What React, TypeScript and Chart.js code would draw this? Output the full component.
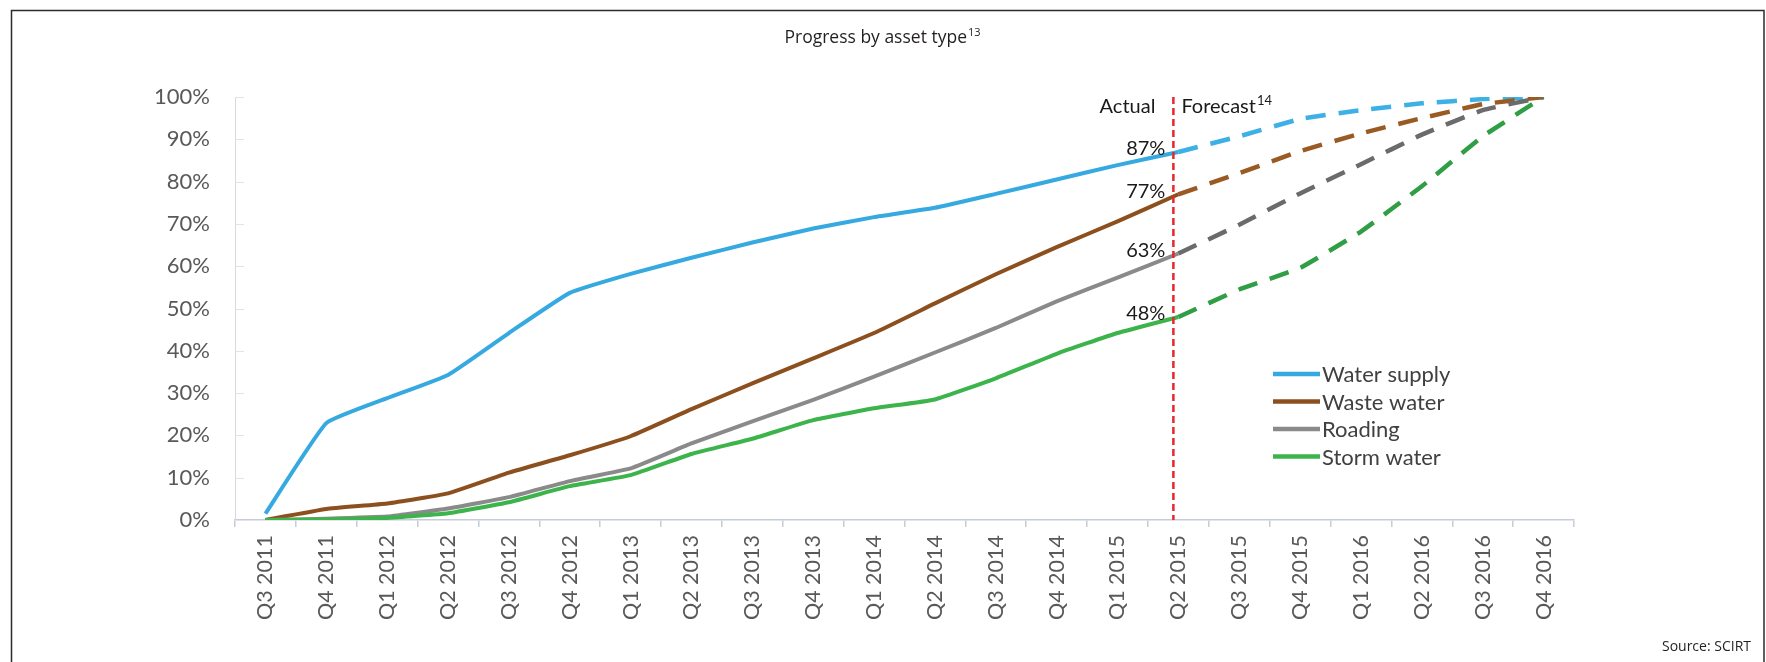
import React, { useEffect, useRef } from "react";
import { Chart, registerables } from "chart.js";

Chart.register(...registerables);

// Quarterly categories
const quarters = [
  "Q3 2011", "Q4 2011",
  "Q1 2012", "Q2 2012", "Q3 2012", "Q4 2012",
  "Q1 2013", "Q2 2013", "Q3 2013", "Q4 2013",
  "Q1 2014", "Q2 2014", "Q3 2014", "Q4 2014",
  "Q1 2015", "Q2 2015", "Q3 2015", "Q4 2015",
  "Q1 2016", "Q2 2016", "Q3 2016", "Q4 2016",
];

// Quarter where actuals end and the forecast begins
const splitQuarter = "Q2 2015";

// Actual progress (%), Q3 2011 .. Q2 2015
const waterSupplyActual = [1.5, 22.9, 28.8, 34.3, 44.2, 53.7, 58.2, 62.0, 65.6, 68.9, 71.6, 73.8, 77.1, 80.5, 83.9, 87];
const wasteWaterActual = [0, 2.6, 3.9, 6.3, 11.2, 15.3, 19.8, 26.2, 32.3, 38.2, 44.2, 51.2, 58.1, 64.5, 70.6, 77];
const roadingActual = [0, 0.3, 0.8, 2.7, 5.4, 9.2, 12.2, 18.1, 23.3, 28.4, 33.9, 39.6, 45.4, 51.7, 57.3, 63];
const stormWaterActual = [0, 0.1, 0.5, 1.6, 4.2, 8.0, 10.6, 15.6, 19.2, 23.6, 26.4, 28.5, 33.5, 39.3, 44.2, 48];

// Forecast progress (%), Q2 2015 .. Q4 2016
const waterSupplyForecast = [87, 90.7, 94.8, 96.9, 98.5, 99.5, 100];
const wasteWaterForecast = [77, 82.0, 87.2, 91.4, 95.0, 98.3, 100];
const roadingForecast = [63, 69.8, 77.2, 84.1, 91.1, 96.9, 100];
const stormWaterForecast = [48, 54.5, 59.6, 68.2, 78.9, 90.7, 100];

const seriesNames = ["Water supply", "Waste water", "Roading", "Storm water"];
const actualColors = ["#35a9e0", "#8c4f1e", "#8a8a8a", "#3cb44b"];
const forecastColors = ["#3db0e6", "#9a5a24", "#6b6b6b", "#2f9e44"];

const titleText = "Progress by asset type";
const titleNote = "13";
const actualText = "Actual";
const forecastText = "Forecast";
const forecastNote = "14";
const sourceText = "Source: SCIRT";

const splitIndex = quarters.indexOf(splitQuarter);

function actualSeries(values: number[]): (number | null)[] {
  return quarters.map((_, i) => (i < values.length ? values[i] : null));
}

function forecastSeries(values: number[]): (number | null)[] {
  return quarters.map((_, i) => (i >= splitIndex ? values[i - splitIndex] : null));
}

const LABEL_FONT = "Lato, 'Open Sans', sans-serif";
const TITLE_FONT = "'Open Sans', 'Noto Sans', sans-serif";

// Frame, title, source line
const framePlugin = {
  id: "frame",
  beforeDraw(chart: any) {
    const { ctx, width } = chart;
    ctx.save();
    ctx.fillStyle = "#ffffff";
    ctx.fillRect(0, 0, width, chart.height);
    ctx.strokeStyle = "#2b2b2b";
    ctx.lineWidth = 1.5;
    ctx.strokeRect(11.5, 10.5, 1752.5, 720);

    ctx.fillStyle = "#231f20";
    ctx.textBaseline = "alphabetic";
    ctx.font = `17.5px ${TITLE_FONT}`;
    const w = ctx.measureText(titleText).width;
    ctx.font = `11px ${TITLE_FONT}`;
    const wn = ctx.measureText(titleNote).width;
    const x0 = 882 - (w + wn) / 2;
    ctx.textAlign = "left";
    ctx.font = `17.5px ${TITLE_FONT}`;
    ctx.fillText(titleText, x0, 43);
    ctx.font = `11px ${TITLE_FONT}`;
    ctx.fillText(titleNote, x0 + w + 1, 36);

    ctx.font = `14px ${TITLE_FONT}`;
    ctx.textAlign = "right";
    ctx.textBaseline = "middle";
    ctx.fillText(sourceText, 1751, 647);
    ctx.restore();
  },
};

// Short inner tick marks on the value axis
const yTickMarks = {
  id: "yTickMarks",
  beforeDatasetsDraw(chart: any) {
    const { ctx } = chart;
    const y = chart.scales.y;
    const left = chart.chartArea.left;
    ctx.save();
    ctx.strokeStyle = "#e3e3e3";
    ctx.lineWidth = 1;
    y.ticks.forEach((t: any) => {
      const py = Math.round(y.getPixelForValue(t.value)) + 0.5;
      ctx.beginPath();
      ctx.moveTo(left, py);
      ctx.lineTo(left + 9, py);
      ctx.stroke();
    });
    ctx.restore();
  },
};

// Actual / forecast divider with value labels and custom legend
const annotations = {
  id: "annotations",
  afterDatasetsDraw(chart: any) {
    const { ctx, chartArea } = chart;
    const xScale = chart.scales.x;
    const lineX = xScale.getPixelForValue(splitIndex) - 5;

    ctx.save();
    ctx.strokeStyle = "#e8262b";
    ctx.lineWidth = 2.5;
    ctx.setLineDash([7, 4]);
    ctx.beginPath();
    ctx.moveTo(lineX, chartArea.top);
    ctx.lineTo(lineX, chartArea.bottom);
    ctx.stroke();
    ctx.setLineDash([]);

    ctx.fillStyle = "#1a1a1a";
    ctx.textBaseline = "alphabetic";
    ctx.font = `20px ${LABEL_FONT}`;
    ctx.textAlign = "right";
    ctx.fillText(actualText, lineX - 18, 113);
    ctx.textAlign = "left";
    ctx.fillText(forecastText, lineX + 8, 113);
    const fw = ctx.measureText(forecastText).width;
    ctx.font = `13px ${LABEL_FONT}`;
    ctx.fillText(forecastNote, lineX + 9 + fw, 105);

    // values at the end of the actuals
    ctx.font = `20px ${LABEL_FONT}`;
    ctx.textAlign = "right";
    ctx.textBaseline = "middle";
    for (let i = 0; i < seriesNames.length; i++) {
      const meta = chart.getDatasetMeta(i);
      const pt = meta.data[splitIndex];
      const v = chart.data.datasets[i].data[splitIndex];
      if (!pt || v == null) continue;
      ctx.fillText(`${Math.round(v)}%`, lineX - 8, pt.y - 3);
    }

    // legend
    const lx = 1273;
    const ly = 374;
    ctx.font = `22px ${LABEL_FONT}`;
    ctx.textAlign = "left";
    ctx.textBaseline = "middle";
    for (let i = 0; i < seriesNames.length; i++) {
      const ds = chart.data.datasets[i];
      const y = ly + i * 27.5;
      ctx.strokeStyle = ds.borderColor;
      ctx.lineWidth = 4.5;
      ctx.beginPath();
      ctx.moveTo(lx, y);
      ctx.lineTo(lx + 47, y);
      ctx.stroke();
      ctx.fillStyle = "#404040";
      ctx.fillText(ds.label, lx + 49, y + 1);
    }
    ctx.restore();
  },
};

export default function App() {
  const canvasRef = useRef<HTMLCanvasElement | null>(null);

  useEffect(() => {
    const canvas = canvasRef.current;
    if (!canvas) return;

    const actualData = [waterSupplyActual, wasteWaterActual, roadingActual, stormWaterActual];
    const forecastData = [waterSupplyForecast, wasteWaterForecast, roadingForecast, stormWaterForecast];

    const datasets: any[] = [];
    seriesNames.forEach((name, i) => {
      datasets.push({
        label: name,
        data: actualSeries(actualData[i]),
        borderColor: actualColors[i],
        backgroundColor: actualColors[i],
        borderWidth: 4,
        pointRadius: 0,
        tension: 0.12,
        spanGaps: false,
        order: 4 - i,
      });
    });
    seriesNames.forEach((name, i) => {
      datasets.push({
        label: `${name} forecast`,
        data: forecastSeries(forecastData[i]),
        borderColor: forecastColors[i],
        backgroundColor: forecastColors[i],
        borderWidth: 4.5,
        borderDash: [20, 13],
        pointRadius: 0,
        tension: 0.1,
        spanGaps: false,
        order: 4 - i,
      });
    });

    const chart = new Chart(canvas, {
      type: "line",
      data: { labels: quarters, datasets },
      options: {
        responsive: false,
        animation: false,
        devicePixelRatio: 1,
        layout: { padding: { left: 0, right: 192, top: 97, bottom: 0 } },
        plugins: {
          legend: { display: false },
          title: { display: false },
          tooltip: { enabled: false },
        },
        scales: {
          x: {
            type: "category",
            offset: true,
            grid: {
              display: true,
              offset: true,
              drawOnChartArea: false,
              drawTicks: true,
              tickLength: 7,
              color: "#c6cdd9",
              lineWidth: 1.5,
            },
            border: { display: true, color: "#c6cdd9", width: 1.5 },
            ticks: {
              autoSkip: false,
              minRotation: 90,
              maxRotation: 90,
              padding: 8,
              color: "#595959",
              font: { family: LABEL_FONT, size: 21.5 },
            },
            afterFit(scale: any) {
              scale.height = 142;
            },
          },
          y: {
            min: 0,
            max: 100,
            grid: { display: false, drawTicks: false },
            border: { display: true, color: "#d9d9d9", width: 1 },
            ticks: {
              stepSize: 10,
              padding: 25,
              color: "#595959",
              font: { family: LABEL_FONT, size: 22 },
              callback: (v: any) => `${v}%`,
            },
            afterFit(scale: any) {
              scale.width = 235;
            },
          },
        },
      },
      plugins: [framePlugin, yTickMarks, annotations],
    });

    return () => chart.destroy();
  }, []);

  return (
    <div style={{ position: "absolute", left: 0, top: 0, width: 1766, height: 662 }}>
      <canvas ref={canvasRef} width={1766} height={662} style={{ width: 1766, height: 662, display: "block" }} />
    </div>
  );
}
